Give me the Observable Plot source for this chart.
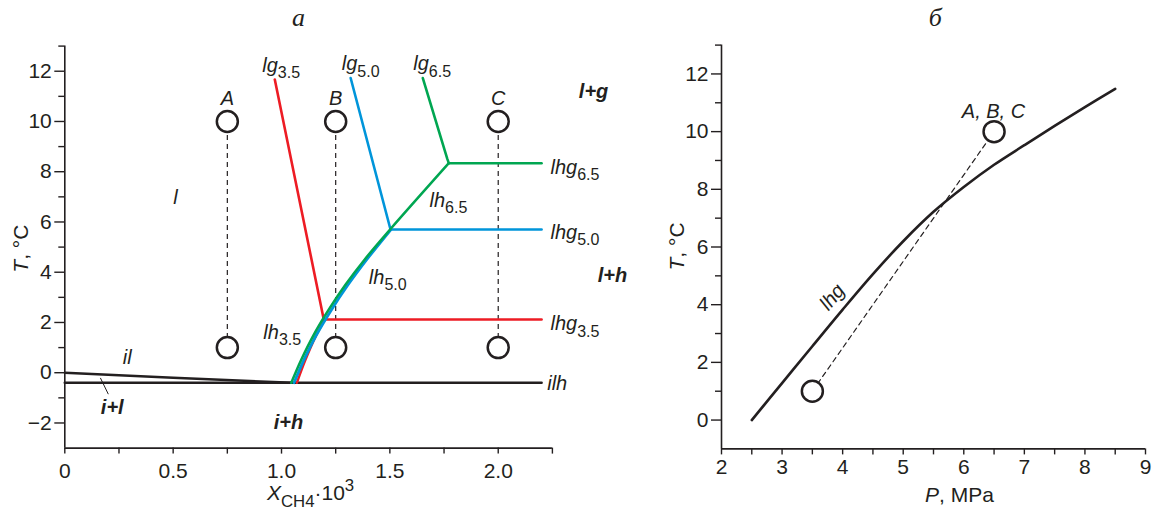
<!DOCTYPE html>
<html><head><meta charset="utf-8">
<script src="https://cdn.jsdelivr.net/npm/d3@7"></script>
<script src="https://cdn.jsdelivr.net/npm/@observablehq/plot@0.6"></script>
<style>
body{margin:0;background:#fff;}
#wrap{display:flex;width:1152px;height:511px;overflow:hidden;}
svg{overflow:visible;}
</style></head><body><div id="wrap"></div>
<script>
const FONT = "Liberation Sans, Arial, Helvetica, sans-serif";
const INK = "#231f20";
const RED = "#ed1c24", BLUE = "#0095da", GREEN = "#00a651";

// ---------- panel а : T vs X_CH4·10^3 ----------
const yMajorA = [-2, 0, 2, 4, 6, 8, 10, 12];
const yMinorA = [-1, 1, 3, 5, 7, 9, 11, 13];
const xMajorA = [0, 0.5, 1.0, 1.5, 2.0];
const xMinorA = [0.25, 0.75, 1.25, 1.75, 2.25];

const ilLine  = [{x:0,t:0.0},{x:0.5,t:-0.2},{x:1.05,t:-0.4}];
const ilhLine = [{x:0,t:-0.4},{x:2.2,t:-0.4}];
const leader  = [{x:0.165,t:-0.22},{x:0.2,t:-0.84}];

const lg35  = [{x:0.969,t:11.67},{x:1.195,t:2.12}];
const lhg35 = [{x:1.195,t:2.12},{x:2.2,t:2.12}];
const lh35  = [{x:1.071,t:-0.4},{x:1.11,t:0.5},{x:1.161,t:1.5},{x:1.2,t:2.12}];

const lg50  = [{x:1.319,t:11.73},{x:1.503,t:5.7}];
const lhg50 = [{x:1.503,t:5.7},{x:2.2,t:5.7}];
const lh50  = [{x:1.058,t:-0.4},{x:1.103,t:0.5},{x:1.161,t:1.5},{x:1.23,t:2.5},{x:1.307,t:3.5},{x:1.393,t:4.5},{x:1.505,t:5.7}];

const lg65  = [{x:1.652,t:11.73},{x:1.765,t:8.51},{x:1.772,t:8.34}];
const lhg65 = [{x:1.772,t:8.34},{x:2.2,t:8.34}];
const lh65  = [{x:1.045,t:-0.4},{x:1.09,t:0.5},{x:1.148,t:1.5},{x:1.217,t:2.5},{x:1.295,t:3.5},{x:1.383,t:4.5},{x:1.503,t:5.72},{x:1.772,t:8.34}];

const samples = [{s:"A",x:0.75},{s:"B",x:1.25},{s:"C",x:2.0}];
const tLow = 1, tHigh = 10, tSampleLabel = 10.92;

const curveLabels = [
  {lab:"lg3.5",x:0.911,t:12.23},{lab:"lg5.0",x:1.278,t:12.3},{lab:"lg6.5",x:1.608,t:12.3},
  {lab:"lhg6.5",x:2.241,t:8.18},{lab:"lhg5.0",x:2.241,t:5.59},{lab:"lhg3.5",x:2.241,t:1.95},
  {lab:"ilh",x:2.226,t:-0.44},
  {lab:"lh6.5",x:1.683,t:6.86},{lab:"lh5.0",x:1.403,t:3.8},{lab:"lh3.5",x:0.916,t:1.61}
];
const phaseBold = [
  {lab:"l+g",x:2.44,t:11.2},{lab:"l+h",x:2.527,t:3.87},
  {lab:"i+h",x:1.032,t:-1.98},{lab:"i+l",x:0.219,t:-1.38}
];
const phasePlain = [{lab:"l",x:0.511,t:6.97},{lab:"il",x:0.288,t:0.62}];

// ---------- panel б : T vs P ----------
const yMajorB = [0, 2, 4, 6, 8, 10, 12];
const yMinorB = [1, 3, 5, 7, 9, 11, 13];
const xMajorB = [2, 3, 4, 5, 6, 7, 8, 9];
const xMinorB = [2.5, 3.5, 4.5, 5.5, 6.5, 7.5, 8.5];
const lhgP = [2.5, 3.0, 3.5, 4.0, 4.5, 5.0, 5.5, 6.0, 6.5, 7.0, 7.5, 8.0, 8.5];
const lhgT = [0, 1.28, 2.56, 3.83, 5.06, 6.2, 7.22, 8.08, 8.85, 9.53, 10.2, 10.85, 11.48];
const pathP = [3.5, 6.5];
const pathT = [1, 10];

// rich text (subscripts / italics)
const RICH = {
  "lg3.5":[["lg","i"],["3.5","sub"]], "lg5.0":[["lg","i"],["5.0","sub"]], "lg6.5":[["lg","i"],["6.5","sub"]],
  "lhg3.5":[["lhg","i"],["3.5","sub"]], "lhg5.0":[["lhg","i"],["5.0","sub"]], "lhg6.5":[["lhg","i"],["6.5","sub"]],
  "lh3.5":[["lh","i"],["3.5","sub"]], "lh5.0":[["lh","i"],["5.0","sub"]], "lh6.5":[["lh","i"],["6.5","sub"]],
  "ilh":[["ilh","i"]],
  "XCH4·103":[["X","i"],["CH4","sub"],["·10","n"],["3","sup"]],
  "T, °C":[["T","i"],[", °C","n"]],
  "P, MPa":[["P","i"],[", MPa","n"]]
};
function richify(svg) {
  svg.querySelectorAll("text").forEach(el => {
    const segs = RICH[el.textContent];
    if (!segs) return;
    const base = parseFloat(getComputedStyle(el).fontSize) || 20;
    el.textContent = "";
    let cur = 0;
    for (const [s, k] of segs) {
      const ts = document.createElementNS("http://www.w3.org/2000/svg", "tspan");
      ts.textContent = s;
      let off = 0, size = base;
      if (k === "sub") { off = base * 0.32; size = base * 0.8; }
      if (k === "sup") { off = -base * 0.42; size = base * 0.8; }
      ts.setAttribute("font-size", size);
      ts.setAttribute("font-style", k === "i" ? "italic" : "normal");
      if (off !== cur) { ts.setAttribute("dy", off - cur); cur = off; }
      el.appendChild(ts);
    }
  });
}
function tickFont(svg, size) {
  svg.querySelectorAll('g[aria-label$="tick label"]').forEach(g => {
    g.setAttribute("font-size", size);
    g.style.fontSize = size + "px";
  });
}

const fmtT = d => d < 0 ? "\u2212" + Math.abs(d) : String(d);
const fmtXA = d => d === 0 ? "0" : d.toFixed(1);
const lineOpts = (stroke, w = 2.6) => ({x: "x", y: "t", stroke, strokeWidth: w, strokeLinejoin: "round"});
const styleBase = {fontFamily: FONT, fontSize: "20px", color: INK, background: "transparent", overflow: "visible"};

const left = Plot.plot({
  width: 640, height: 511,
  marginLeft: 64.3, marginRight: 88.1, marginTop: 45.6, marginBottom: 63.4,
  style: styleBase,
  x: {domain: [0, 2.25]}, y: {domain: [-3, 13]},
  marks: [
    Plot.axisY(yMajorA, {tickSize: 10, tickPadding: 3, tickFormat: fmtT, label: null, strokeWidth: 1.4}),
    Plot.axisY(yMinorA, {tickSize: 6, fill: "none", label: null, strokeWidth: 1.4}),
    Plot.axisX(xMajorA, {tickSize: 6, tickPadding: 9, tickFormat: fmtXA, label: null, strokeWidth: 1.4}),
    Plot.axisX(xMinorA, {tickSize: 6, fill: "none", label: null, strokeWidth: 1.4}),
    Plot.ruleX([0], {stroke: INK, strokeWidth: 1.6}),
    Plot.ruleY([-3], {stroke: INK, strokeWidth: 1.6}),
    Plot.ruleX(samples, {x: "x", y1: () => tLow, y2: () => tHigh, stroke: INK, strokeWidth: 1.2, strokeDasharray: "5,4"}),
    Plot.line(ilLine, lineOpts(INK, 2.4)),
    Plot.line(ilhLine, lineOpts(INK, 2.6)),
    Plot.line(leader, lineOpts(INK, 1)),
    Plot.line(lh35, {...lineOpts(RED, 2.4), curve: "catmull-rom"}),
    Plot.line(lg35, lineOpts(RED)),
    Plot.line(lhg35, lineOpts(RED)),
    Plot.line(lh50, {...lineOpts(BLUE, 2.8), curve: "catmull-rom"}),
    Plot.line(lg50, lineOpts(BLUE)),
    Plot.line(lhg50, lineOpts(BLUE)),
    Plot.line(lh65, {...lineOpts(GREEN, 2.5), curve: "catmull-rom"}),
    Plot.line(lg65, lineOpts(GREEN)),
    Plot.line(lhg65, lineOpts(GREEN)),
    Plot.dot(samples, {x: "x", y: () => tLow, r: 10.5, fill: "white", stroke: INK, strokeWidth: 2.5}),
    Plot.dot(samples, {x: "x", y: () => tHigh, r: 10.5, fill: "white", stroke: INK, strokeWidth: 2.5}),
    Plot.text(samples, {x: "x", y: () => tSampleLabel, text: "s", fontSize: 20, fontStyle: "italic", fill: INK}),
    Plot.text(curveLabels, {x: "x", y: "t", text: "lab", textAnchor: "start", fontSize: 20, fill: INK}),
    Plot.text(phaseBold, {x: "x", y: "t", text: "lab", fontSize: 20, fontWeight: "bold", fontStyle: "italic", fill: INK}),
    Plot.text(phasePlain, {x: "x", y: "t", text: "lab", fontSize: 20, fontStyle: "italic", fill: INK}),
    Plot.text(["T, °C"], {x: () => 0, y: () => 4.94, dx: -44, rotate: -90, fontSize: 21, fill: INK}),
    Plot.text(["XCH4·103"], {x: () => 1.134, y: () => -3, dy: 45, fontSize: 21, fill: INK}),
    Plot.text(["а"], {x: () => 1.078, y: () => 13, dy: -28, fontSize: 26, fontStyle: "italic", fontFamily: "Liberation Serif, Times New Roman, serif", fill: INK})
  ]
});

const right = Plot.plot({
  width: 512, height: 511,
  marginLeft: 81, marginRight: 7, marginTop: 44.6, marginBottom: 62.6,
  style: styleBase,
  x: {domain: [2, 9]}, y: {domain: [-1, 13]},
  marks: [
    Plot.axisY(yMajorB, {tickSize: 10, tickPadding: 3, tickFormat: fmtT, label: null, strokeWidth: 1.4}),
    Plot.axisY(yMinorB, {tickSize: 6, fill: "none", label: null, strokeWidth: 1.4}),
    Plot.axisX(xMajorB, {tickSize: 6, tickPadding: 4, tickFormat: d => String(d), label: null, strokeWidth: 1.4}),
    Plot.axisX(xMinorB, {tickSize: 6, fill: "none", label: null, strokeWidth: 1.4}),
    Plot.ruleX([2], {stroke: INK, strokeWidth: 1.6}),
    Plot.ruleY([-1], {stroke: INK, strokeWidth: 1.6}),
    Plot.line(lhgP, {x: d => d, y: (d, i) => lhgT[i], stroke: INK, strokeWidth: 2.6, curve: "catmull-rom"}),
    Plot.line(pathP, {x: d => d, y: (d, i) => pathT[i], stroke: INK, strokeWidth: 1.2, strokeDasharray: "5,4"}),
    Plot.dot(pathP, {x: d => d, y: (d, i) => pathT[i], r: 10.5, fill: "white", stroke: INK, strokeWidth: 2.5}),
    Plot.text(["A, B, C"], {x: () => 6.49, y: () => 10.71, fontSize: 20, fontStyle: "italic", fill: INK}),
    Plot.text(["lhg"], {x: () => 3.828, y: () => 4.26, rotate: -50, fontSize: 20, fontStyle: "italic", fill: INK}),
    Plot.text(["T, °C"], {x: () => 2, y: () => 6.02, dx: -44, rotate: -90, fontSize: 21, fill: INK}),
    Plot.text(["P, MPa"], {x: () => 5.93, y: () => -1, dy: 46, fontSize: 21, fill: INK}),
    Plot.text(["б"], {x: () => 5.53, y: () => 13, dy: -27, fontSize: 26, fontStyle: "italic", fontFamily: "Liberation Serif, Times New Roman, serif", fill: INK})
  ]
});

const wrap = document.getElementById("wrap");
wrap.appendChild(left);
wrap.appendChild(right);
tickFont(left, 21);
tickFont(right, 21);
richify(left);
richify(right);
</script></body></html>
